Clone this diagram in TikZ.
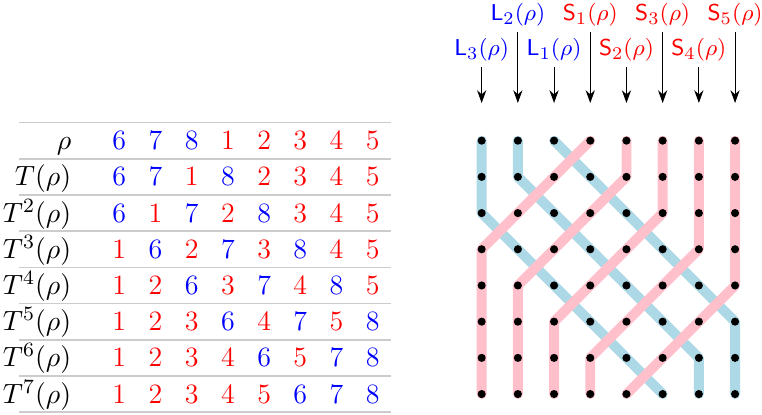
\documentclass[tikz,border=0pt]{standalone}
\usetikzlibrary{arrows.meta}

\definecolor{hebraazul}{RGB}{173,216,230}
\definecolor{hebrarosa}{RGB}{255,192,203}

\begin{document}
\begin{tikzpicture}[>={Stealth[length=5pt,width=3.6pt,inset=1.6pt]},
    every node/.style={font=\fontsize{11}{13.5}\selectfont},
    linea/.style={black!20, line width=0.6pt},
    hebraL/.style={hebraazul, line width=3.9pt, line cap=round, line join=round},
    hebraS/.style={hebrarosa, line width=3.9pt, line cap=round, line join=round},
    etiqueta/.style={inner sep=2pt, font=\fontsize{9.5}{11.5}\selectfont}]

\useasboundingbox (0,0) rectangle (10.525,-5.732);

% =============================================
% TABLA: rho y sus iterados T^k(rho)
% =============================================
\foreach \r in {0,...,8}
    \draw[linea] (0.262,-1.693-0.5*\r) -- (5.40,-1.693-0.5*\r);

\foreach \lab [count=\r from 0] in {{$\rho$},{$T(\rho)$},{$T^2(\rho)$},{$T^3(\rho)$},
        {$T^4(\rho)$},{$T^5(\rho)$},{$T^6(\rho)$},{$T^7(\rho)$}}
    \node[anchor=base east, inner sep=0pt] (fila-\r) at (0.99,-2.068-0.5*\r) {\lab};

% Valores (1..5 rojo, 6..8 azul)
\foreach \fila [count=\r from 0] in {{6,7,8,1,2,3,4,5},{6,7,1,8,2,3,4,5},{6,1,7,2,8,3,4,5},
        {1,6,2,7,3,8,4,5},{1,2,6,3,7,4,8,5},{1,2,3,6,4,7,5,8},{1,2,3,4,6,5,7,8},{1,2,3,4,5,6,7,8}}
    \foreach \v [count=\c] in \fila
        \node[anchor=base, inner sep=0pt] (t-\r-\c) at (1.148+0.5*\c,-2.068-0.5*\r)
            {\ifnum\v>5 \color{blue}\else\color{red}\fi\v};

% =============================================
% DIAGRAMA: rejilla de puntos
% =============================================
\foreach \r in {0,...,7}
    \foreach \c in {1,...,8}
        \coordinate (p-\r-\c) at (6.153+0.5*\c,-1.943-0.5*\r);

% Hebras azules (6, 7, 8) debajo
\draw[hebraL] (p-0-1) -- (p-1-1) -- (p-2-1) -- (p-3-2) -- (p-4-3) -- (p-5-4) -- (p-6-5) -- (p-7-6);
\draw[hebraL] (p-0-2) -- (p-1-2) -- (p-2-3) -- (p-3-4) -- (p-4-5) -- (p-5-6) -- (p-6-7) -- (p-7-7);
\draw[hebraL] (p-0-3) -- (p-1-4) -- (p-2-5) -- (p-3-6) -- (p-4-7) -- (p-5-8) -- (p-6-8) -- (p-7-8);

% Hebras rosas (1..5) encima
\draw[hebraS] (p-0-4) -- (p-1-3) -- (p-2-2) -- (p-3-1) -- (p-4-1) -- (p-5-1) -- (p-6-1) -- (p-7-1);
\draw[hebraS] (p-0-5) -- (p-1-5) -- (p-2-4) -- (p-3-3) -- (p-4-2) -- (p-5-2) -- (p-6-2) -- (p-7-2);
\draw[hebraS] (p-0-6) -- (p-1-6) -- (p-2-6) -- (p-3-5) -- (p-4-4) -- (p-5-3) -- (p-6-3) -- (p-7-3);
\draw[hebraS] (p-0-7) -- (p-1-7) -- (p-2-7) -- (p-3-7) -- (p-4-6) -- (p-5-5) -- (p-6-4) -- (p-7-4);
\draw[hebraS] (p-0-8) -- (p-1-8) -- (p-2-8) -- (p-3-8) -- (p-4-8) -- (p-5-7) -- (p-6-6) -- (p-7-5);

% Puntos
\foreach \r in {0,...,7}
    \foreach \c in {1,...,8}
        \fill (p-\r-\c) circle (1.6pt);

% =============================================
% ETIQUETAS Y FLECHAS
% =============================================
\foreach \c in {1,...,8}
    \coordinate (f-\c) at (6.153+0.5*\c,-1.423);

\node[etiqueta, blue] (L2) at (7.153,-0.21) {$\mathsf{L}_2(\rho)$};
\node[etiqueta, red]  (S1) at (8.153,-0.21) {$\mathsf{S}_1(\rho)$};
\node[etiqueta, red]  (S3) at (9.153,-0.21) {$\mathsf{S}_3(\rho)$};
\node[etiqueta, red]  (S5) at (10.153,-0.21) {$\mathsf{S}_5(\rho)$};

\node[etiqueta, blue] (L3) at (6.653,-0.69) {$\mathsf{L}_3(\rho)$};
\node[etiqueta, blue] (L1) at (7.653,-0.69) {$\mathsf{L}_1(\rho)$};
\node[etiqueta, red]  (S2) at (8.653,-0.69) {$\mathsf{S}_2(\rho)$};
\node[etiqueta, red]  (S4) at (9.653,-0.69) {$\mathsf{S}_4(\rho)$};

\draw[->] (L3) -- (f-1);
\draw[->] (L2) -- (f-2);
\draw[->] (L1) -- (f-3);
\draw[->] (S1) -- (f-4);
\draw[->] (S2) -- (f-5);
\draw[->] (S3) -- (f-6);
\draw[->] (S4) -- (f-7);
\draw[->] (S5) -- (f-8);

\end{tikzpicture}
\end{document}
